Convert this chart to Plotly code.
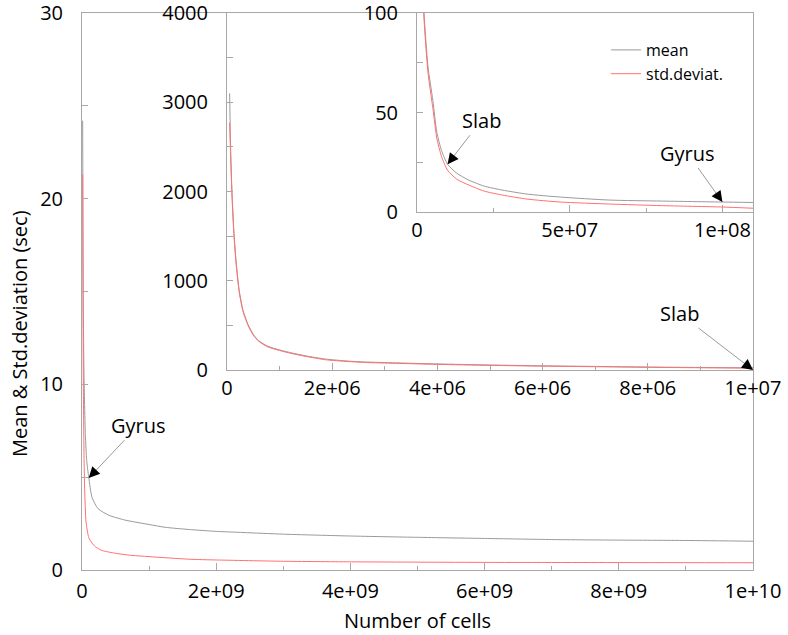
import plotly.graph_objects as go

# ---------------- data ----------------
# Main panel: 0 .. 1e10 cells
main_cells_mean = [1.0e7, 1.5e7, 2e7, 3e7, 5e7, 7e7, 1e8, 1.5e8, 2.4e8, 4e8, 6.4e8,
                   1e9, 1.24e9, 1.6e9, 2.0e9, 2.4e9, 3e9, 4e9, 5e9, 6e9, 7e9, 8e9, 9e9, 1e10]
main_mean = [24.2, 18.0, 14.0, 10.5, 7.3, 5.9, 5.0, 3.9, 3.3, 2.95, 2.69,
             2.45, 2.3, 2.18, 2.08, 2.02, 1.93, 1.83, 1.76, 1.70, 1.64, 1.61, 1.59, 1.55]
main_cells_std = [1.0e7, 1.5e7, 2e7, 3e7, 4e7, 6e7, 1e8, 1.5e8, 2e8, 3e8, 5e8, 7e8,
                  1e9, 1.6e9, 2e9, 3e9, 4e9, 6e9, 8e9, 1e10]
main_std = [21.3, 14.0, 10.0, 6.2, 4.3, 2.6, 1.75, 1.45, 1.25, 1.05, 0.9, 0.8,
            0.72, 0.58, 0.54, 0.47, 0.44, 0.41, 0.40, 0.39]

# Inset 1: 0 .. 1e7 cells
ins1_cells = [5e4, 7e4, 9.5e4, 1.3e5, 1.7e5, 2.3e5, 3e5, 4e5, 5e5, 6e5, 7.8e5, 1e6, 1.24e6, 1.5e6,
              1.87e6, 2.3e6, 2.63e6, 3.2e6, 4e6, 5e6, 6e6, 7e6, 8e6, 9e6, 1e7]
ins1_mean = [3100, 2450, 1990, 1560, 1240, 900, 680, 510, 400, 330, 265, 225, 190, 158,
             123, 100, 90, 80, 68, 56, 47, 40, 33, 28, 24]
ins1_std = [2770, 2380, 1950, 1530, 1210, 880, 665, 498, 390, 322, 258, 218, 183, 152,
            115, 95, 84, 75, 63, 52, 43, 37, 30, 25, 21]

# Inset 2: 0 .. 1.1e8 cells
ins2_cells = [1.9e6, 2.3e6, 3.6e6, 5.2e6, 6.5e6, 8e6, 1e7, 1.3e7, 1.7e7, 2.2e7, 2.8e7,
              3.6e7, 4.7e7, 6.3e7, 8e7, 1e8, 1.1e8]
ins2_mean = [123, 100, 73, 56, 40, 31, 24, 19.5, 16, 13, 11, 9, 7.5, 6.0, 5.5, 5.0, 4.8]
ins2_std = [118, 97, 70, 52, 37, 28, 21, 16.5, 13.5, 10.5, 8.5, 6.5, 5.0, 4.0, 3.2, 2.5, 1.9]

# tick labels
main_xticks = [0, 2e9, 4e9, 6e9, 8e9, 1e10]
main_xlabels = ["0", "2e+09", "4e+09", "6e+09", "8e+09", "1e+10"]
main_xminor = [1e9, 3e9, 5e9, 7e9, 9e9]
main_yticks = [0, 10, 20, 30]
main_yminor = [5, 15, 25]
ins1_xticks = [0, 2e6, 4e6, 6e6, 8e6, 1e7]
ins1_xlabels = ["0", "2e+06", "4e+06", "6e+06", "8e+06", "1e+07"]
ins1_xminor = [1e6, 3e6, 5e6, 7e6, 9e6]
ins1_yticks = [0, 1000, 2000, 3000, 4000]
ins1_yminor = [500, 1500, 2500, 3500]
ins2_xticks = [0, 5e7, 1e8]
ins2_xlabels = ["0", "5e+07", "1e+08"]
ins2_xminor = [2.5e7, 7.5e7]
ins2_yticks = [0, 50, 100]
ins2_yminor = [25, 75]

# ---------------- styling ----------------
W, H = 788, 635
FONT = "Open Sans"
GRAY = "#9a9a9a"
RED = "#ff7070"
AX = "#a8a8a8"


def px_x(p):
    return p / W


def px_y(p):
    return (H - p) / H


def axis(rng, tv, tt, minor_vals, domain, anchor, standoff, major_len=7, minor_len=4):
    return dict(
        range=rng, domain=domain, anchor=anchor, automargin=False,
        tickmode="array", tickvals=tv, ticktext=tt,
        ticks="inside", ticklen=major_len, tickcolor=AX, tickwidth=1,
        minor=dict(tickmode="array", tickvals=minor_vals, ticks="inside",
                   ticklen=minor_len, tickcolor=AX, tickwidth=1),
        showline=True, linecolor=AX, linewidth=1, mirror=True,
        showgrid=False, zeroline=False,
        tickfont=dict(family=FONT, size=20, color="black"),
        ticklabelstandoff=standoff, ticklabeloverflow="allow",
    )


SPL = dict(width=1, shape="spline", smoothing=0.6)

fig = go.Figure()

fig.add_trace(go.Scatter(x=main_cells_mean, y=main_mean, mode="lines",
                         line=dict(color=GRAY, **SPL), xaxis="x", yaxis="y", showlegend=False))
fig.add_trace(go.Scatter(x=main_cells_std, y=main_std, mode="lines",
                         line=dict(color=RED, **SPL), xaxis="x", yaxis="y", showlegend=False))
fig.add_trace(go.Scatter(x=ins1_cells, y=ins1_mean, mode="lines",
                         line=dict(color=GRAY, **SPL), xaxis="x2", yaxis="y2", showlegend=False))
fig.add_trace(go.Scatter(x=ins1_cells, y=ins1_std, mode="lines",
                         line=dict(color=RED, **SPL), xaxis="x2", yaxis="y2", showlegend=False))
fig.add_trace(go.Scatter(x=ins2_cells, y=ins2_mean, mode="lines", name="mean",
                         line=dict(color=GRAY, **SPL), xaxis="x3", yaxis="y3"))
fig.add_trace(go.Scatter(x=ins2_cells, y=ins2_std, mode="lines", name="std.deviat.",
                         line=dict(color=RED, **SPL), xaxis="x3", yaxis="y3"))

L, R = 82, 753
main_dom_x = [px_x(L), px_x(R)]
main_dom_y = [px_y(570), px_y(13)]
ins1_dom_x = [px_x(227), px_x(R)]
ins1_dom_y = [px_y(370), px_y(13)]
ins2_dom_x = [px_x(417), px_x(R)]
ins2_dom_y = [px_y(212), px_y(13)]

fig.update_layout(
    width=W, height=H,
    margin=dict(l=0, r=0, t=0, b=0, autoexpand=False),
    paper_bgcolor="white", plot_bgcolor="white",
    font=dict(family=FONT, color="black"),
    xaxis=axis([0, 1e10], main_xticks, main_xlabels, main_xminor, main_dom_x, "y", 3),
    yaxis=axis([0, 30], main_yticks, [str(v) for v in main_yticks], main_yminor,
               main_dom_y, "x", 14, major_len=6, minor_len=6),
    xaxis2=axis([0, 1e7], ins1_xticks, ins1_xlabels, ins1_xminor, ins1_dom_x, "y2", 0),
    yaxis2=axis([0, 4000], ins1_yticks, [str(v) for v in ins1_yticks], ins1_yminor,
                ins1_dom_y, "x2", 14, major_len=6, minor_len=6),
    xaxis3=axis([0, 1.1e8], ins2_xticks, ins2_xlabels, ins2_xminor, ins2_dom_x, "y3", 0),
    yaxis3=axis([0, 100], ins2_yticks, [str(v) for v in ins2_yticks], ins2_yminor,
                ins2_dom_y, "x3", 14, major_len=6, minor_len=6),
    legend=dict(x=px_x(606), y=px_y(33), xanchor="left", yanchor="top",
                bgcolor="rgba(0,0,0,0)", font=dict(family=FONT, size=16, color="black"),
                tracegroupgap=0, itemwidth=30),
)

annotations = [
    dict(text="Number of cells", x=px_x((L + R) / 2), y=px_y(620), xref="paper", yref="paper",
         showarrow=False, font=dict(family=FONT, size=20), xanchor="center", yanchor="middle"),
    dict(text="Mean & Std.deviation (sec)", x=px_x(19), y=px_y(334), xref="paper", yref="paper",
         showarrow=False, textangle=-90, font=dict(family=FONT, size=20),
         xanchor="center", yanchor="middle"),
]

# labelled pointers: (text, x, y, xref, yref, ax, ay)
pointers = [
    ("Gyrus", 1e8, 4.95, "x", "y", 50, -53),
    ("Slab", 1e7, 0, "x2", "y2", -74, -57),
    ("Slab", 1e7, 24, "x3", "y3", 34, -44),
    ("Gyrus", 1e8, 5, "x3", "y3", -35, -49),
]
for txt, x, y, xr, yr, ax, ay in pointers:
    annotations.append(dict(text=txt, x=x, y=y, xref=xr, yref=yr, ax=ax, ay=ay,
                            showarrow=True, arrowhead=0, arrowwidth=1, arrowcolor="#9a9a9a",
                            standoff=0, font=dict(family=FONT, size=20, color="black")))
    n = (ax * ax + ay * ay) ** 0.5
    annotations.append(dict(text="", x=x, y=y, xref=xr, yref=yr,
                            ax=ax / n * 12, ay=ay / n * 12,
                            showarrow=True, arrowhead=2, arrowsize=2.2, arrowwidth=1,
                            arrowcolor="black", standoff=0))

fig.update_layout(annotations=annotations)

fig.write_html(
    "out.html",
    config={"displayModeBar": False},
    post_script="document.body.style.margin='0';document.body.style.overflow='hidden';",
)
